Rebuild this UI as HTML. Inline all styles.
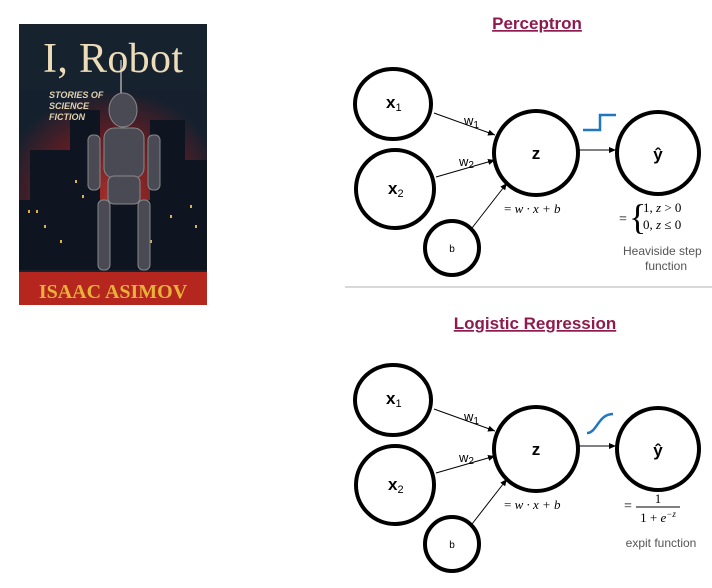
<!DOCTYPE html>
<html><head><meta charset="utf-8"><style>
body{margin:0;width:712px;height:583px;background:#fff;overflow:hidden;font-family:"Liberation Sans",sans-serif}
</style></head><body>
<svg width="712" height="583" viewBox="0 0 712 583" xmlns="http://www.w3.org/2000/svg">
<defs>
<marker id="ah" markerWidth="8" markerHeight="8" refX="7" refY="4" orient="auto"><path d="M0,1 L7,4 L0,7 z" fill="#000"/></marker>
<radialGradient id="glow" cx="0.5" cy="0.6" r="0.6"><stop offset="0" stop-color="#c0302a"/><stop offset="0.6" stop-color="#6a1c22"/><stop offset="1" stop-color="#15202e"/></radialGradient>
</defs>
<g>
<rect x="19" y="24" width="188" height="281" fill="#17222f"/>
<rect x="19" y="90" width="188" height="180" fill="url(#glow)" opacity="0.85"/>
<g fill="#0e1520">
<rect x="30" y="150" width="40" height="120"/><rect x="70" y="110" width="30" height="160"/><rect x="150" y="120" width="35" height="150"/><rect x="185" y="160" width="22" height="110"/>
<rect x="19" y="200" width="188" height="70"/>
</g>
<g fill="#d9b44a"><rect x="28" y="210" width="2" height="3"/><rect x="36" y="210" width="2" height="3"/><rect x="44" y="225" width="2" height="3"/><rect x="75" y="180" width="2" height="3"/><rect x="82" y="195" width="2" height="3"/><rect x="170" y="215" width="2" height="3"/><rect x="190" y="205" width="2" height="3"/><rect x="195" y="225" width="2" height="3"/><rect x="60" y="240" width="2" height="3"/><rect x="150" y="240" width="2" height="3"/></g>
<g fill="#4a4a55" stroke="#888" stroke-width="1">
<ellipse cx="123" cy="110" rx="14" ry="17"/><rect x="104" y="128" width="40" height="50" rx="10"/><rect x="108" y="176" width="32" height="28" rx="6"/>
<rect x="98" y="200" width="12" height="70" rx="5"/><rect x="138" y="200" width="12" height="70" rx="5"/>
<rect x="88" y="135" width="12" height="55" rx="5"/><rect x="148" y="135" width="12" height="55" rx="5"/>
</g>
<line x1="121" y1="93" x2="121" y2="60" stroke="#aaa" stroke-width="1.5"/>
<rect x="19" y="272" width="188" height="33" fill="#b5261f"/>
<text x="113" y="72" text-anchor="middle" font-family="Liberation Serif,serif" font-size="42" fill="#ecdcb8" textLength="140">I, Robot</text>
<text x="49" y="98" font-size="9" font-style="italic" font-weight="bold" fill="#e0d2b0"><tspan x="49">STORIES OF</tspan><tspan x="49" dy="11">SCIENCE</tspan><tspan x="49" dy="11">FICTION</tspan></text>
<text x="113" y="298" text-anchor="middle" font-family="Liberation Serif,serif" font-weight="bold" font-size="20" fill="#e8b23a">ISAAC ASIMOV</text>
</g>

<g>
<text x="537" y="29" text-anchor="middle" font-size="17" font-weight="bold" fill="#8e1b4e" text-decoration="underline">Perceptron</text>
<g fill="none" stroke="#000" stroke-width="4">
<ellipse cx="393" cy="104" rx="38" ry="35"/>
<ellipse cx="395" cy="189" rx="39" ry="39"/>
<circle cx="452" cy="248" r="27"/>
<circle cx="536" cy="153" r="42"/>
<circle cx="658" cy="153" r="41"/>
</g>
<g stroke="#000" stroke-width="1" marker-end="url(#ah)">
<line x1="434" y1="113" x2="495" y2="135"/><line x1="436" y1="177" x2="495" y2="160"/><line x1="472" y1="228" x2="507" y2="183"/><line x1="579" y1="150" x2="616" y2="150"/>
</g>
<path d="M583,130 H600 V115 H616" fill="none" stroke="#1f77c4" stroke-width="2.5"/>
<text x="464" y="125" font-size="13">w<tspan font-size="10" dy="3">1</tspan></text>
<text x="459" y="166" font-size="13">w<tspan font-size="10" dy="2">2</tspan></text>
<text x="386" y="108" font-size="17" font-weight="bold">x<tspan font-size="11" font-weight="normal" dy="3">1</tspan></text>
<text x="388" y="194" font-size="17" font-weight="bold">x<tspan font-size="11" font-weight="normal" dy="3">2</tspan></text>
<text x="452" y="252" font-size="10" text-anchor="middle">b</text>
<text x="536" y="159" font-size="17" font-weight="bold" text-anchor="middle">z</text>
<text x="658" y="160" font-size="17" font-weight="bold" text-anchor="middle">ŷ</text>
<text x="504" y="213" font-family="Liberation Serif,serif" font-size="13" font-style="italic"><tspan font-style="normal">=</tspan> w · x + b</text>
<text x="619" y="223" font-family="Liberation Serif,serif" font-size="14">=</text>
<text x="629" y="229" font-family="Liberation Serif,serif" font-size="36">{</text>
<text x="643" y="212" font-family="Liberation Serif,serif" font-size="13">1,  <tspan font-style="italic">z</tspan> &gt; 0</text>
<text x="643" y="229" font-family="Liberation Serif,serif" font-size="13">0,  <tspan font-style="italic">z</tspan> ≤ 0</text>
<text x="623" y="255" font-size="12" fill="#555">Heaviside step</text>
<text x="666" y="270" font-size="12" fill="#555" text-anchor="middle">function</text>
</g>
<line x1="345" y1="287" x2="712" y2="287" stroke="#ccc" stroke-width="1.5"/>

<g transform="translate(0,296)">
<text x="535" y="33" text-anchor="middle" font-size="17" font-weight="bold" fill="#8e1b4e" text-decoration="underline">Logistic Regression</text>
<g fill="none" stroke="#000" stroke-width="4">
<ellipse cx="393" cy="104" rx="38" ry="35"/>
<ellipse cx="395" cy="189" rx="39" ry="39"/>
<circle cx="452" cy="248" r="27"/>
<circle cx="536" cy="153" r="42"/>
<circle cx="658" cy="153" r="41"/>
</g>
<g stroke="#000" stroke-width="1" marker-end="url(#ah)">
<line x1="434" y1="113" x2="495" y2="135"/><line x1="436" y1="177" x2="495" y2="160"/><line x1="472" y1="228" x2="507" y2="183"/><line x1="579" y1="150" x2="616" y2="150"/>
</g>
<path d="M587,137 C597,137 598,118 613,118" fill="none" stroke="#1f77c4" stroke-width="2.5"/>
<text x="464" y="125" font-size="13">w<tspan font-size="10" dy="3">1</tspan></text>
<text x="459" y="166" font-size="13">w<tspan font-size="10" dy="2">2</tspan></text>
<text x="386" y="108" font-size="17" font-weight="bold">x<tspan font-size="11" font-weight="normal" dy="3">1</tspan></text>
<text x="388" y="194" font-size="17" font-weight="bold">x<tspan font-size="11" font-weight="normal" dy="3">2</tspan></text>
<text x="452" y="252" font-size="10" text-anchor="middle">b</text>
<text x="536" y="159" font-size="17" font-weight="bold" text-anchor="middle">z</text>
<text x="658" y="160" font-size="17" font-weight="bold" text-anchor="middle">ŷ</text>
<text x="504" y="213" font-family="Liberation Serif,serif" font-size="13" font-style="italic"><tspan font-style="normal">=</tspan> w · x + b</text>
<text x="624" y="214" font-family="Liberation Serif,serif" font-size="14">=</text>
<text x="658" y="207" font-family="Liberation Serif,serif" font-size="13" text-anchor="middle">1</text>
<line x1="636" y1="211" x2="680" y2="211" stroke="#000" stroke-width="1"/>
<text x="658" y="226" font-family="Liberation Serif,serif" font-size="13" text-anchor="middle">1 + <tspan font-style="italic">e</tspan><tspan font-size="9" dy="-5" font-style="italic">−z</tspan></text>
<text x="661" y="251" font-size="12" fill="#555" text-anchor="middle">expit function</text>
</g>
</svg>
</body></html>
